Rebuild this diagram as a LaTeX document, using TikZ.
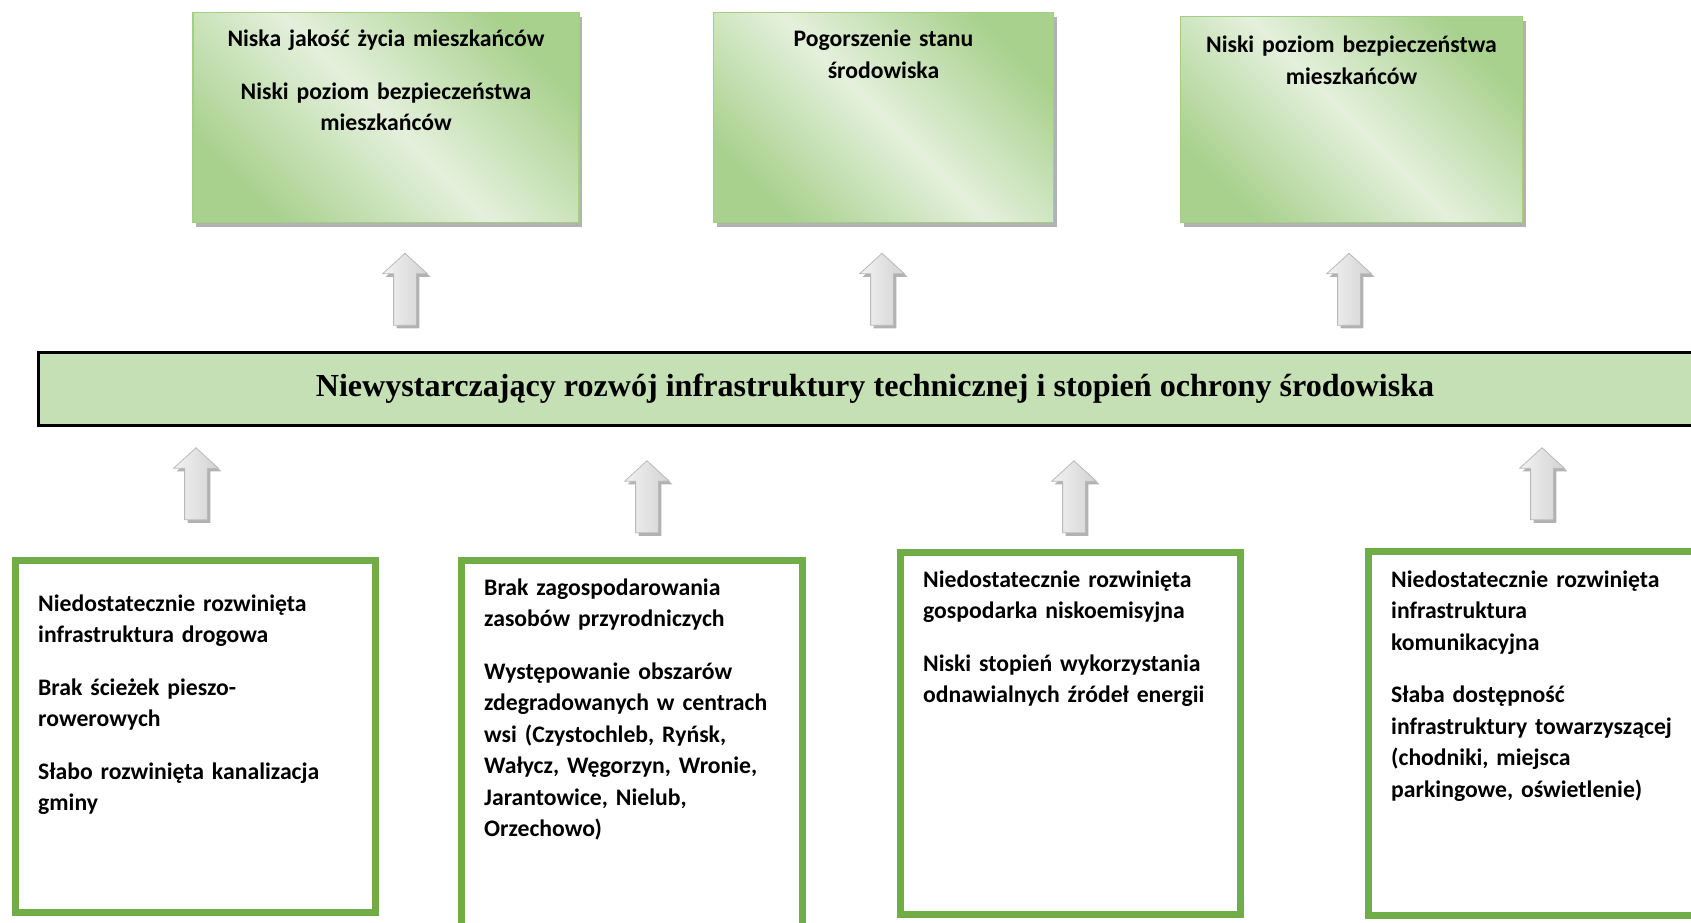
\documentclass[tikz,border=0pt]{standalone}
\usepackage{fontspec}
\setmainfont{Carlito}
\newfontfamily\timesfont{Liberation Serif}
\usetikzlibrary{shapes.arrows,shadows,calc,positioning}
\definecolor{boxgreen}{HTML}{70AD47}
\definecolor{bargreen}{HTML}{C5E0B4}
\definecolor{darkgreen}{HTML}{A9D18E}
\definecolor{lightgreen}{HTML}{E4F0DC}
\definecolor{edgegreen}{HTML}{A3CF85}

\begin{document}
\begin{tikzpicture}[x=1pt,y=-1pt,
  txt/.style={font=\fontsize{23.7}{31.5}\selectfont\bfseries, inner sep=0pt},
  effect/.style={rectangle, draw=edgegreen, line width=1.5pt, minimum height=210pt,
    top color=darkgreen, bottom color=darkgreen, middle color=lightgreen, shading angle=-45,
    drop shadow={shadow xshift=3pt, shadow yshift=-4pt, fill=gray!60, opacity=1}},
  effect text/.style={txt, text width=370pt, align=center, anchor=base},
  cause/.style={rectangle, draw=boxgreen, line width=7pt, fill=white, inner sep=0pt},
  cause text/.style={txt, text width=330pt, align=left, anchor=base west},
  up arrow/.style={single arrow, shape border rotate=90, draw=gray!55, line width=0.8pt,
    left color=gray!10, right color=gray!35, minimum height=72pt, minimum width=44pt,
    single arrow head extend=11pt, single arrow tip angle=95, inner sep=11pt,
    drop shadow={shadow xshift=3pt, shadow yshift=-3pt, fill=gray!60, opacity=1}},
  problem/.style={rectangle, draw=black, line width=3pt, fill=bargreen,
    minimum width=1673pt, minimum height=73pt, font=\timesfont\fontsize{32.1}{38}\selectfont\bfseries}]

  \useasboundingbox (0,0) rectangle (1691,922);
  \clip (0,0) rectangle (1691,922);

  % skutki
  \node[effect, minimum width=386pt] (eff1) at (386,117.5) {};
  \node[effect, minimum width=340pt] (eff2) at (883.5,117.5) {};
  \node[effect, minimum width=342pt, minimum height=206pt] (eff3) at (1351.5,119.5) {};

  \node[effect text] (eff1txt) at ($(eff1.north)+(0,35)$) {Niska jakość życia mieszkańców\\[21pt] Niski poziom bezpieczeństwa\\ mieszkańców};
  \node[effect text] (eff2txt) at ($(eff2.north)+(0,35)$) {Pogorszenie stanu\\ środowiska};
  \node[effect text] (eff3txt) at ($(eff3.north)+(0,37)$) {Niski poziom bezpieczeństwa\\ mieszkańców};

  \node[up arrow] (arr1) at (405,294.5) {};
  \node[up arrow] (arr2) at (882,294.5) {};
  \node[up arrow] (arr3) at (1349,294.5) {};

  % problem
  \node[problem] (prob) at (875,389) {Niewystarczający rozwój infrastruktury technicznej i stopień ochrony środowiska};

  \node[up arrow] (arr4) at (196,489) {};
  \node[up arrow] (arr5) at (647,502) {};
  \node[up arrow] (arr6) at (1074,502) {};
  \node[up arrow] (arr7) at (1542,489) {};

  % przyczyny
  \node[cause, minimum width=360pt, minimum height=352pt] (cause1) at (195.5,736.5) {};
  \node[cause, minimum width=341pt, minimum height=369pt] (cause2) at (632,745) {};
  \node[cause, minimum width=340pt, minimum height=362pt] (cause3) at (1070.5,733.5) {};
  \node[cause, minimum width=341pt, minimum height=364pt] (cause4) at (1539,733.5) {};

  \node[cause text] (cause1txt) at ($(cause1.north west)+(26,54)$) {Niedostatecznie rozwinięta\\ infrastruktura drogowa\\[21pt] Brak ścieżek pieszo-\\ rowerowych\\[21pt] Słabo rozwinięta kanalizacja\\ gminy};
  \node[cause text] (cause2txt) at ($(cause2.north west)+(26,38)$) {Brak zagospodarowania\\ zasobów przyrodniczych\\[21pt] Występowanie obszarów\\ zdegradowanych w centrach\\ wsi (Czystochleb, Ryńsk,\\ Wałycz, Węgorzyn, Wronie,\\ Jarantowice, Nielub,\\ Orzechowo)};
  \node[cause text] (cause3txt) at ($(cause3.north west)+(26,38)$) {Niedostatecznie rozwinięta\\ gospodarka niskoemisyjna\\[21pt] Niski stopień wykorzystania\\ odnawialnych źródeł energii};
  \node[cause text] (cause4txt) at ($(cause4.north west)+(26,39)$) {Niedostatecznie rozwinięta\\ infrastruktura\\ komunikacyjna\\[21pt] Słaba dostępność\\ infrastruktury towarzyszącej\\ (chodniki, miejsca\\ parkingowe, oświetlenie)};

\end{tikzpicture}
\end{document}
